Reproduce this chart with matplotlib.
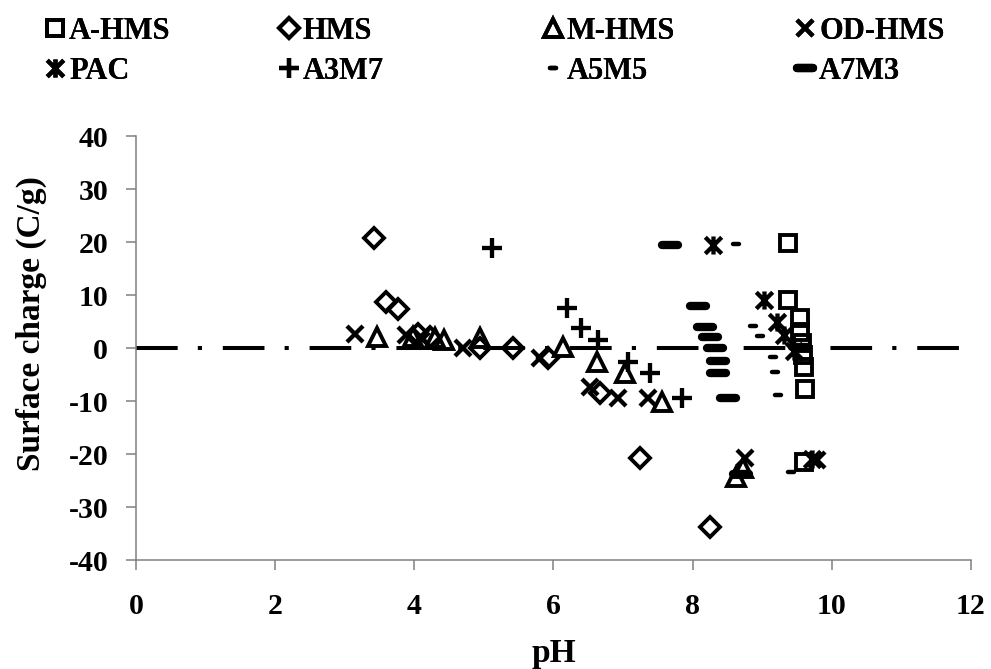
import matplotlib
matplotlib.use("Agg")
import matplotlib.pyplot as plt
import numpy as np
from matplotlib.path import Path
from matplotlib.markers import MarkerStyle

plt.rcParams['font.family'] = ['Liberation Serif', 'DejaVu Serif']
plt.rcParams['font.weight'] = 'bold'
plt.rcParams['lines.scale_dashes'] = False
plt.rcParams['axes.unicode_minus'] = False

# surface charge (C/g) against pH for each sorbent
a_hms_ph = [9.37, 9.37, 9.54, 9.54, 9.57, 9.58, 9.60, 9.61, 9.60]
a_hms_q = [19.8, 9.1, 5.7, 3.0, 0.9, -1.3, -3.6, -7.8, -21.5]

hms_ph = [3.42, 3.60, 3.76, 4.05, 4.22, 4.94, 5.42, 5.92, 6.67, 7.25, 8.25]
hms_q = [20.7, 8.7, 7.3, 2.6, 2.1, 0.0, 0.0, -1.9, -8.5, -20.8, -33.7]

m_hms_ph = [3.46, 3.98, 4.30, 4.42, 4.94, 6.13, 6.62, 7.03, 7.56, 8.63, 8.72]
m_hms_q = [2.1, 2.0, 1.8, 1.6, 1.9, 0.2, -2.6, -4.8, -10.2, -24.3, -22.6]

od_hms_ph = [3.15, 3.88, 4.10, 4.70, 5.80, 6.52, 6.93, 7.36, 8.75, 9.78]
od_hms_q = [2.7, 2.5, 2.0, 0.0, -1.9, -7.3, -9.4, -9.4, -20.8, -21.1]

pac_ph = [8.29, 9.02, 9.21, 9.32, 9.45, 9.72]
pac_q = [19.4, 9.0, 4.9, 2.5, -0.5, -21.0]

a3m7_ph = [5.11, 6.20, 6.40, 6.64, 7.07, 7.39, 7.84]
a3m7_q = [18.9, 7.5, 3.8, 1.5, -2.6, -4.8, -9.4]

a5m5_ph = [8.63, 8.87, 8.97, 9.15, 9.18, 9.22, 9.42]
a5m5_q = [19.6, 4.2, 2.3, -1.7, -4.5, -8.9, -23.4]

a7m3_ph = [7.67, 8.07, 8.18, 8.25, 8.32, 8.36, 8.36, 8.51, 8.70, 9.54]
a7m3_q = [19.4, 7.9, 4.0, 2.1, 0.0, -2.5, -4.8, -9.4, -23.8, 0.2]

# X with a vertical stroke, like the spreadsheet "star" marker
star_path = Path(
    [(-0.5, -0.5), (0.5, 0.5), (-0.5, 0.5), (0.5, -0.5), (0, -0.55), (0, 0.55)],
    [Path.MOVETO, Path.LINETO, Path.MOVETO, Path.LINETO, Path.MOVETO, Path.LINETO])

series = [
    ("A-HMS", a_hms_ph, a_hms_q, dict(marker='s', ms=11.5, mew=2.8)),
    ("HMS", hms_ph, hms_q, dict(marker='D', ms=10, mew=2.8)),
    ("M-HMS", m_hms_ph, m_hms_q, dict(marker='^', ms=13, mew=2.8)),
    ("OD-HMS", od_hms_ph, od_hms_q, dict(marker='x', ms=12, mew=3.1)),
    ("PAC", pac_ph, pac_q, dict(marker=star_path, ms=13, mew=3.1)),
    ("A3M7", a3m7_ph, a3m7_q, dict(marker='+', ms=14, mew=3.1)),
    ("A5M5", a5m5_ph, a5m5_q, dict(marker=MarkerStyle('_', capstyle='round'), ms=4.5, mew=3.2)),
    ("A7M3", a7m3_ph, a7m3_q, dict(marker=MarkerStyle('_', capstyle='round'), ms=11.5, mew=6)),
]

fig = plt.figure(figsize=(9.91, 6.69), dpi=100)
ax = fig.add_axes([0.1372, 0.1629, 0.8426, 0.6338])

# zero-charge reference
ax.axhline(0, color='black', lw=2.9, dashes=(30, 14.5, 3, 15), zorder=1)

handles = []
for name, xs, ys, st in series:
    h, = ax.plot(xs, ys, ls='none', color='black', mfc='none', mec='black',
                 label=name, zorder=3, **st)
    handles.append(h)

ax.set_xlim(0, 12)
ax.set_ylim(-40, 40)
ax.set_xticks(np.arange(0, 13, 2))
ax.set_yticks(np.arange(-40, 41, 10))
for s in ('top', 'right'):
    ax.spines[s].set_visible(False)
for s in ('left', 'bottom'):
    ax.spines[s].set_color('#808080')
    ax.spines[s].set_linewidth(1.1)
ax.tick_params(axis='both', direction='out', length=7, width=1.1, color='#808080',
               labelsize=21.5)
ax.tick_params(axis='y', pad=13)
ax.tick_params(axis='x', pad=17)
for lab in ax.get_xticklabels() + ax.get_yticklabels():
    lab.set_fontweight('bold')

ax.set_xlabel("pH", fontsize=24, fontweight='bold', labelpad=13)
ax.set_ylabel("Surface charge (C/g)", fontsize=24, fontweight='bold')
ax.yaxis.set_label_coords(-0.107, 0.557)

# legend: two rows of four entries across the top
slots_x = [0.045, 0.281, 0.547, 0.802]
rows_y = [0.953, 0.893]
for i, h in enumerate(handles):
    leg = fig.legend(handles=[h], loc='center left',
                     bbox_to_anchor=(slots_x[i % 4], rows_y[i // 4]),
                     frameon=False, handlelength=0.7, handletextpad=0.1,
                     borderpad=0, borderaxespad=0, markerscale=1.0,
                     prop=dict(family='Liberation Serif', weight='bold', size=22))
    fig.add_artist(leg)

fig.savefig("out.png", dpi=100)
